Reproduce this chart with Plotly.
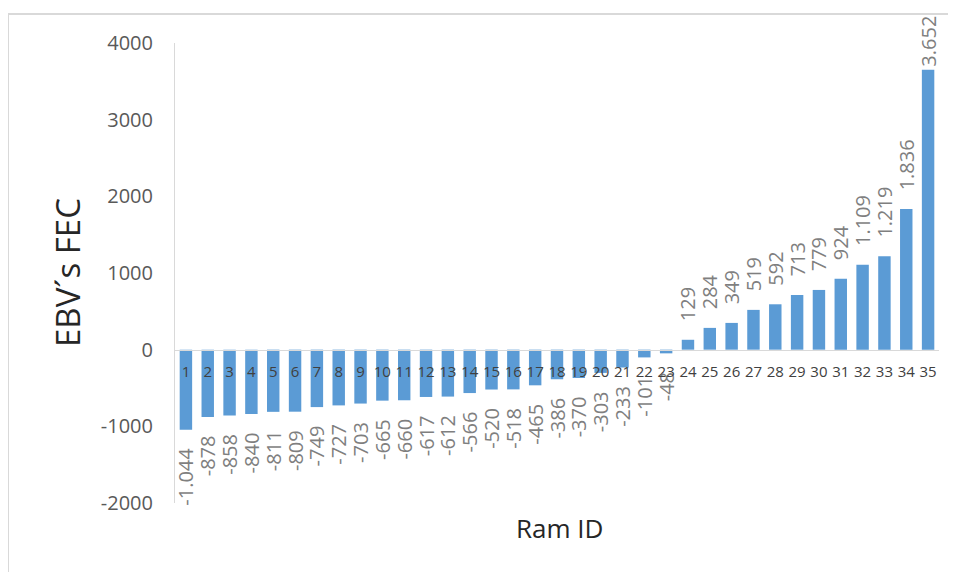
import plotly.graph_objects as go

# ---- data ----
ram_ids = [str(i) for i in range(1, 36)]
ebv_fec = [-1044, -878, -858, -840, -811, -809, -749, -727, -703, -665,
           -660, -617, -612, -566, -520, -518, -465, -386, -370, -303,
           -233, -101, -48, 129, 284, 349, 519, 592, 713, 779,
           924, 1109, 1219, 1836, 3652]
y_tick_values = [-2000, -1000, 0, 1000, 2000, 3000, 4000]
y_tick_labels = ["-2000", "-1000", "0", "1000", "2000", "3000", "4000"]
x_title = "Ram ID"
y_title = "EBV´s FEC"

# ---- labels (European thousands separator, as in the source) ----
def fmt(v):
    s = f"{v:,}".replace(",", ".")
    pad = "\u00a0" * 3 if abs(v) < 3000 else ""
    return pad + s if v >= 0 else s + pad

labels = [fmt(v) for v in ebv_fec]

FONT = "Open Sans, Liberation Sans, sans-serif"

fig = go.Figure(go.Bar(
    x=ram_ids, y=ebv_fec,
    marker=dict(color="#5B9BD5", line=dict(width=0)),
    text=labels, textposition="outside", textangle=-90,
    textfont=dict(family=FONT, size=20, color="#7f7f7f"),
    constraintext="none", cliponaxis=False,
))

OFF = 8  # page body margin
W, H = 956, 572
L, T = 175 - OFF, 43 - OFF
R = W - (939 - OFF)
B = H - (503 - OFF)
pw, ph = W - L - R, H - T - B

def px(x):
    return (x - OFF - L) / pw

def py(y):
    return (H - B - (y - OFF)) / ph

fig.update_layout(
    width=W, height=H,
    margin=dict(l=L, r=R, t=T, b=B, autoexpand=False),
    paper_bgcolor="white", plot_bgcolor="white",
    bargap=0.43, showlegend=False,
    font=dict(family=FONT),
    xaxis=dict(type="category", anchor="free", position=1/3,
               showline=True, linecolor="#d9d9d9", linewidth=1,
               ticks="outside", ticklen=8, tickcolor="rgba(0,0,0,0)",
               tickfont=dict(size=15, color="#404040"),
               showgrid=False, zeroline=False, tickangle=0,
               range=[-0.5, 34.5]),
    yaxis=dict(range=[-2000, 4000], tickvals=y_tick_values, ticktext=y_tick_labels,
               showline=True, linecolor="#d9d9d9", linewidth=1,
               ticks="outside", ticklen=17, tickcolor="rgba(0,0,0,0)",
               tickfont=dict(size=20, color="#595959"),
               showgrid=False, zeroline=False),
    annotations=[
        dict(text=x_title, xref="paper", yref="paper", x=px(559), y=py(528),
             showarrow=False, xanchor="center", yanchor="middle",
             font=dict(size=26, color="#262626", family=FONT)),
        dict(text=y_title, xref="paper", yref="paper", x=px(67), y=py(272),
             showarrow=False, xanchor="center", yanchor="middle", textangle=-90,
             font=dict(size=33, color="#262626", family=FONT)),
    ],
    shapes=[
        dict(type="line", xref="paper", yref="paper", x0=px(8), x1=px(964),
             y0=py(14), y1=py(14), line=dict(color="#d9d9d9", width=2)),
        dict(type="line", xref="paper", yref="paper", x0=px(8), x1=px(8),
             y0=py(14), y1=py(580), line=dict(color="#d9d9d9", width=2)),
    ],
)

fig.write_html("out.html")
